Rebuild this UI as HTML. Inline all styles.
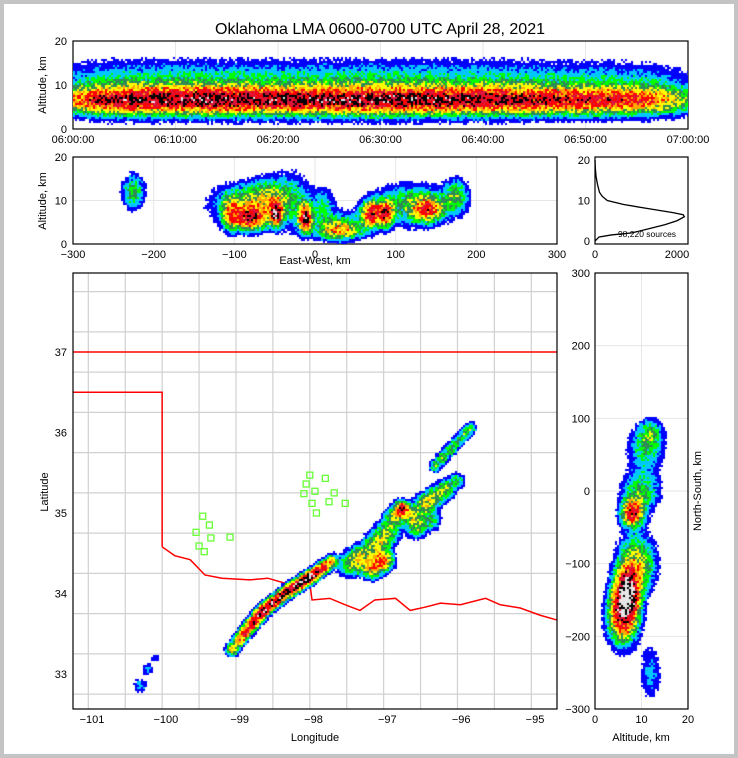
<!DOCTYPE html>
<html><head><meta charset="utf-8"><style>
html,body{margin:0;padding:0;background:#c4c4c4;}
#wrap{position:absolute;left:4px;top:4px;width:730px;height:750px;background:#fff;}
svg text{font-family:"Liberation Sans",sans-serif;fill:#000;}
canvas{position:absolute;}
</style></head><body>
<div id="wrap"></div>
<svg id="svg" width="738" height="758" style="position:absolute;left:0;top:0"></svg>
<script>
// ---------- data ----------
const topBlobsT=[2,7,12,17,22,27,32,37,42,47,52,57];
const topBlobsW=[0.75,0.75,0.8,0.75,0.75,0.78,0.8,0.75,0.72,0.65,0.6,0.58];
const ewBlobX=[-225,-80,-48,-12,-60,30,70,88,140,175,-105,10,-90,30,120,-30];
const ewBlobZ=[12,6,7,6,11,3,7,7,8,11,7,9,9,4,9,10];
const ewBlobSX=[9,14,5,5,15,15,8,6,12,10,7,10,25,25,30,15];
const ewBlobSZ=[2.5,1.8,1.8,2,2.5,1.2,1.8,1.8,1.8,2.5,2.5,2.5,3,2,3,4];
const ewBlobW=[0.3,0.75,0.9,1.0,0.3,0.35,0.8,0.7,0.55,0.3,0.35,0.2,0.3,0.3,0.3,0.25];
const histAlt=[0,1,1.5,2,3,4,5,6,6.5,7,8,9,10,11,12,14,16,18,20];
const histCnt=[0,100,400,900,1300,1700,2000,2180,2150,1900,1300,700,300,180,110,60,25,8,0];
const mapLon=[-99.1,-99.0,-98.92,-98.83,-98.74,-98.65,-98.55,-98.45,-98.35,-98.25,-98.15,-98.05,-97.95,-97.85,-97.75,
 -96.35,-96.25,-96.15,-96.05,-95.95,-95.87,
 -97.5,-97.35,-97.2,-97.05,-97.15,-97.0,-96.9,-96.8,-96.65,-96.5,-96.35,-96.2,-96.6,-96.05,-96.4,
 -100.35,-100.25,-100.15];
const mapLat=[33.3,33.42,33.52,33.62,33.72,33.8,33.88,33.95,34.02,34.08,34.14,34.2,34.26,34.33,34.4,
 35.58,35.68,35.78,35.88,35.98,36.05,
 34.35,34.45,34.3,34.4,34.6,34.75,34.95,35.05,34.95,35.1,35.2,35.3,34.8,35.4,34.9,
 32.85,33.05,33.2];
const mapSig=[0.05,0.05,0.05,0.05,0.05,0.05,0.05,0.05,0.05,0.05,0.05,0.05,0.05,0.05,0.05,
 0.05,0.05,0.05,0.05,0.05,0.05,
 0.1,0.1,0.08,0.08,0.1,0.1,0.08,0.06,0.08,0.08,0.08,0.08,0.08,0.06,0.08,
 0.06,0.05,0.04];
const mapW=[0.55,0.7,0.8,0.9,1.0,0.95,0.9,0.85,0.9,0.95,1.0,1.1,0.85,0.7,0.5,
 0.3,0.32,0.32,0.3,0.28,0.25,
 0.3,0.35,0.45,0.6,0.35,0.35,0.4,0.8,0.35,0.4,0.35,0.3,0.3,0.25,0.25,
 0.15,0.15,0.12];
const nsAlt=[7,6,8,10,11,9,12,12];
const nsKm=[-140,-170,-30,0,60,-100,-250,80];
const nsSA=[1.6,2,1.5,2.5,2.5,2.5,1.5,1.5];
const nsSK=[22,25,12,18,20,25,25,12];
const nsW=[1.1,0.8,0.8,0.3,0.25,0.45,0.15,0.2];
const staLon=[-98.05,-97.84,-98.10,-97.98,-98.13,-97.72,-98.02,-97.79,-97.57,-97.96,-99.50,-99.41,-99.59,-99.39,-99.55,-99.13,-99.48];
const staLat=[35.47,35.43,35.36,35.27,35.24,35.25,35.12,35.14,35.12,35.00,34.96,34.85,34.76,34.69,34.59,34.70,34.52];
const rivLon=[-100.05,-99.88,-99.67,-99.47,-99.24,-98.86,-98.62,-98.32,-98.05,-98.02,-97.78,-97.57,-97.37,-97.17,-96.89,-96.69,-96.49,-96.28,-96.01,-95.67,-95.47,-95.20,-94.93,-94.70];
const rivLat=[34.58,34.47,34.42,34.23,34.19,34.17,34.19,34.11,34.13,33.92,33.94,33.86,33.79,33.92,33.94,33.79,33.83,33.88,33.86,33.94,33.86,33.82,33.73,33.67];
const timeTicks=["06:00:00","06:10:00","06:20:00","06:30:00","06:40:00","06:50:00","07:00:00"];

// ---------- helpers ----------
const NS="http://www.w3.org/2000/svg";
const svg=document.getElementById('svg');
function el(tag,attrs,parent){const e=document.createElementNS(NS,tag);for(const k in attrs)e.setAttribute(k,attrs[k]);(parent||svg).appendChild(e);return e;}
function txt(x,y,s,size,anchor,rot){const t=el('text',{x:x,y:y,'font-size':size||11,'text-anchor':anchor||'middle'});if(rot)t.setAttribute('transform','rotate('+rot+' '+x+' '+y+')');t.textContent=s;return t;}
function lin(a,b,c,d){return v=>c+(v-a)*(d-c)/(b-a);}
const cols=[[0,0,255],[0,200,255],[0,255,0],[46,139,87],[255,255,0],[255,165,0],[255,0,0],[220,20,60],[0,0,0],[230,230,230]];
const th=[0.06,0.12,0.2,0.28,0.38,0.5,0.62,0.78,0.95,1.2];
function hash(a,b){let h=(a*374761393+b*668265263)|0;h=(h^(h>>>13))*1274126177|0;return ((h^(h>>>16))>>>0)/4294967296;}
function colorOf(d){let c=null;for(let i=0;i<th.length;i++)if(d>=th[i])c=cols[i];return c;}
function heat(name,x,y,w,h,cell,dens){
  const c=document.createElement('canvas');c.width=w;c.height=h;c.style.left=x+'px';c.style.top=y+'px';
  
  
  const g=c.getContext('2d');
  for(let py=0;py<h;py+=cell)for(let px=0;px<w;px+=cell){
    const d=dens(px+cell/2,py+cell/2)*(0.7+0.6*hash(px+x,py+y));
    const col=colorOf(d);if(col){g.fillStyle='rgb('+col+')';g.fillRect(px,py,cell,cell);}}
  document.body.appendChild(c);
}
function gauss(dx,dy,sx,sy){return Math.exp(-0.5*((dx/sx)**2+(dy/sy)**2));}
function frame(name,x,y,w,h){el('rect',{x:x,y:y,width:w,height:h,fill:'none',stroke:'#000','stroke-width':1.2,});}

const tt=txt(380,34,'Oklahoma LMA 0600-0700 UTC April 28, 2021',16);



// ---------- top panel ----------
const tX=lin(0,60,73,688),tY=lin(0,20,129,41);
for(let i=0;i<=6;i++)el('line',{x1:tX(i*10),x2:tX(i*10),y1:41,y2:129,stroke:'#e6e6e6'});
el('line',{x1:73,x2:688,y1:tY(10),y2:tY(10),stroke:'#e6e6e6'});
heat('time-altitude-heatmap',73,41,615,88,2,(px,py)=>{const t=px*60/615,z=20-py*20/88;let d=0;
  for(let i=0;i<topBlobsT.length;i++){d+=topBlobsW[i]*0.62*gauss(t-topBlobsT[i],z-6.5,3.2,1.9)+topBlobsW[i]*0.22*gauss(t-topBlobsT[i],z-9,3.2,4);}return d;});
frame('time-altitude-axes',73,41,615,88);
[0,10,20].forEach(v=>txt(67,tY(v)+4,v,11,'end'));
timeTicks.forEach((s,i)=>txt(tX(i*10),143,s,11));
txt(46,85,'Altitude, km',11,'middle',-90);

// ---------- east-west panel ----------
const eX=lin(-300,300,73,557),eY=lin(0,20,244,157);
[-200,-100,0,100,200].forEach(v=>el('line',{x1:eX(v),x2:eX(v),y1:157,y2:244,stroke:'#e6e6e6'}));
el('line',{x1:73,x2:557,y1:eY(10),y2:eY(10),stroke:'#e6e6e6'});
heat('east-west-heatmap',73,157,484,87,2,(px,py)=>{const x=-300+px*600/484,z=20-py*20/87;let d=0;
  for(let i=0;i<ewBlobX.length;i++)d+=ewBlobW[i]*gauss(x-ewBlobX[i],z-ewBlobZ[i],ewBlobSX[i],ewBlobSZ[i]);return d;});
frame('east-west-axes',73,157,484,87);
[0,10,20].forEach(v=>txt(67,eY(v)+4,v,11,'end'));
[-300,-200,-100,0,100,200,300].forEach(v=>txt(eX(v),258,v<0?'\u2212'+(-v):v,11));
txt(315,264,'East-West, km',11);
txt(46,201,'Altitude, km',11,'middle',-90);

// ---------- histogram ----------
const hX=lin(0,2000,595,677),hY=lin(0,20,241,160);
frame('altitude-histogram-axes',595,157,93,87);
el('polyline',{points:histAlt.map((a,i)=>hX(histCnt[i])+','+hY(a)).join(' '),fill:'none',stroke:'#000','stroke-width':1.3,});
[0,10,20].forEach(v=>txt(590,hY(v)+4,v,11,'end'));
txt(595,258,'0',11);txt(677,258,'2000',11);
txt(647,237,'98,220 sources',8.5);

// ---------- map ----------
const mX=lin(-101,-95,92,535),mY=lin(37,33,352,674);
const grid=el('g',{stroke:'#d0d0d0','stroke-width':1.2,fill:'none'});
for(let lo=-101.05;lo<-94.6;lo+=0.5)el('line',{x1:mX(lo),x2:mX(lo),y1:273,y2:709},grid);
for(let la=32.75;la<38;la+=0.5)el('line',{x1:73,x2:557,y1:mY(la),y2:mY(la)},grid);
heat('lightning-density-map',73,273,484,436,2,(px,py)=>{const lo=-101.26+px*6.56/484,la=37.98-py*5.42/436;let d=0;
  for(let i=0;i<mapLon.length;i++)d+=mapW[i]*gauss((lo-mapLon[i])*0.92,la-mapLat[i],mapSig[i],mapSig[i]);return d;});
el('polyline',{points:[[73,mY(37)],[557,mY(37)]].map(p=>p.join(',')).join(' '),fill:'none',stroke:'#ff0000','stroke-width':1.5,});
el('polyline',{points:[[73,mY(36.5)],[mX(-100.05),mY(36.5)],[mX(-100.05),mY(34.58)]].map(p=>p.join(',')).join(' '),fill:'none',stroke:'#ff0000','stroke-width':1.5,});
el('polyline',{points:rivLon.map((l,i)=>mX(l)+','+mY(rivLat[i])).join(' '),fill:'none',stroke:'#ff0000','stroke-width':1.5,});
staLon.forEach((l,i)=>{const r=el('rect',{x:mX(l)-3,y:mY(staLat[i])-3,width:6,height:6,fill:'none',stroke:'#66ff33','stroke-width':1.3});
  
  });
frame('map-axes',73,273,484,436);
[33,34,35,36,37].forEach(v=>txt(67,mY(v)+4,v,11,'end'));
[-101,-100,-99,-98,-97,-96,-95].forEach(v=>txt(mX(v),723,'\u2212'+(-v),11));
txt(315,741,'Longitude',11);
txt(48,492,'Latitude',11,'middle',-90);

// ---------- north-south panel ----------
const nX=lin(0,20,595,688),nY=lin(300,-300,273,709);
[-200,-100,0,100,200].forEach(v=>el('line',{x1:595,x2:688,y1:nY(v),y2:nY(v),stroke:'#e6e6e6'}));
el('line',{x1:nX(10),x2:nX(10),y1:273,y2:709,stroke:'#e6e6e6'});
heat('north-south-heatmap',595,273,93,436,2,(px,py)=>{const a=px*20/93,k=300-py*600/436;let d=0;
  for(let i=0;i<nsAlt.length;i++)d+=nsW[i]*gauss(a-nsAlt[i],k-nsKm[i],nsSA[i],nsSK[i]);return d;});
frame('north-south-axes',595,273,93,436);
[300,200,100,0,-100,-200,-300].forEach(v=>txt(590,nY(v)+4,v<0?'\u2212'+(-v):v,11,'end'));
[0,10,20].forEach(v=>txt(nX(v),723,v,11));
txt(641,741,'Altitude, km',11);
txt(701,491,'North-South, km',11,'middle',-90);
</script>
</body></html>
